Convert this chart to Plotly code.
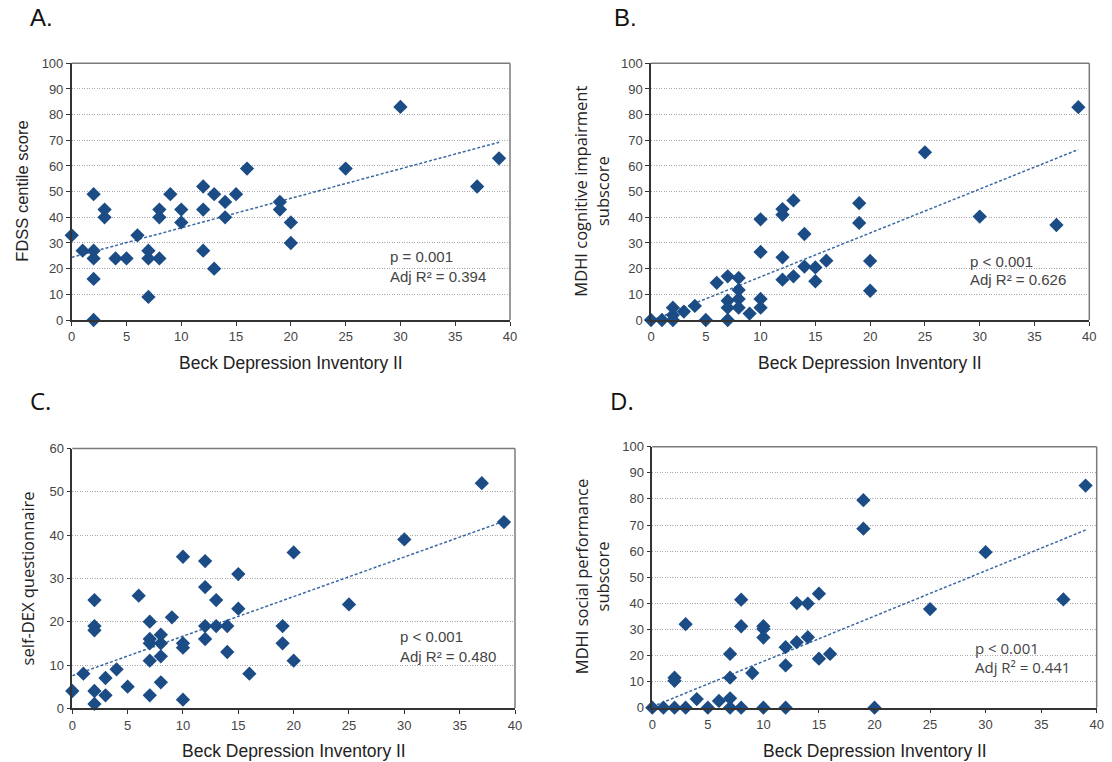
import plotly.graph_objects as go

W, H = 1112, 762

# ---------------- data ----------------
a_x = [0, 1, 2, 2, 2, 2, 2, 3, 3, 4, 5, 6, 7, 7, 7, 8, 8, 8, 9, 10, 10, 12, 12, 12,
       13, 13, 14, 14, 15, 16, 19, 19, 20, 20, 25, 30, 37, 39]
a_y = [33, 27, 49, 27, 24, 16, 0, 43, 40, 24, 24, 33, 27, 24, 9, 43, 40, 24, 49, 43, 38, 52, 43, 27,
       49, 20, 46, 40, 49, 59, 46, 43, 38, 30, 59, 83, 52, 63]

b_x = [0, 1, 2, 2, 2, 3, 4, 5, 6, 7, 7, 7, 7, 8, 8, 8, 8, 9, 10, 10, 10, 10, 12, 12, 12, 12,
       13, 13, 14, 14, 15, 15, 16, 19, 19, 20, 20, 25, 30, 37, 39]
b_y = [0, 0, 4.8, 1.9, 0, 3.3, 5.5, 0, 14.5, 17, 7.5, 4.8, 0, 16.4, 11.7, 8.2, 4.8, 2.5, 39.2, 26.5, 8.2, 4.8,
       43.2, 41, 24.4, 15.7, 46.6, 17, 33.5, 20.8, 20.5, 15.1, 23.1, 45.5, 37.8, 23, 11.4, 65.3, 40.3, 37, 82.9]

c_x = [0, 1, 2, 2, 2, 2, 2, 3, 3, 4, 5, 6, 7, 7, 7, 7, 7, 8, 8, 8, 8, 9, 10, 10, 10, 10,
       12, 12, 12, 12, 13, 13, 14, 14, 15, 15, 16, 19, 19, 20, 20, 25, 30, 37, 39]
c_y = [4, 8, 25, 19, 18, 4, 1, 7, 3, 9, 5, 26, 20, 16, 15, 11, 3, 17, 15, 12, 6, 21, 35, 15, 14, 2,
       34, 28, 19, 16, 25, 19, 19, 13, 31, 23, 8, 19, 15, 36, 11, 24, 39, 52, 43]

d_x = [0, 1, 2, 2, 2, 3, 3, 4, 5, 6, 7, 7, 7, 7, 8, 8, 8, 9, 10, 10, 10, 10, 12, 12, 12,
       13, 13, 14, 14, 15, 15, 16, 19, 19, 20, 25, 30, 37, 39]
d_y = [0, 0, 11.5, 10.3, 0, 32, 0, 3.3, 0, 2.6, 20.6, 11.5, 3.6, 0, 41.4, 31.2, 0, 13.3, 31.2, 30.2, 26.9, 0,
       23.2, 16.2, 0, 40.1, 25.1, 39.9, 27, 43.7, 18.8, 20.6, 79.5, 68.6, 0, 37.8, 59.6, 41.5, 85.1]

# linear trend lines (intercept, slope)
trend_intercept = [24.4, -0.3, 7.5, 0.4]
trend_slope = [1.15, 1.71, 0.915, 1.735]
trend_x_range = [0, 39]

panel_letters = ["A.", "B.", "C.", "D."]
y_titles = ["FDSS centile score",
            "MDHI cognitive impairment<br>subscore",
            "self-DEX questionnaire",
            "MDHI social performance<br>subscore"]
x_title = "Beck Depression Inventory II"
stats_p = ["p = 0.001", "p < 0.001", "p < 0.001", "p < 0.001"]
stats_r2 = ["Adj R² = 0.394", "Adj R² = 0.626", "Adj R² = 0.480", "Adj R² = 0.441"]
y_max = [100, 100, 60, 100]
x_ticks = [0, 5, 10, 15, 20, 25, 30, 35, 40]

# ---------------- layout geometry (pixels) ----------------
boxes = [(71.7, 510.0, 63.3, 320.0),
         (651.0, 1089.3, 63.3, 320.0),
         (72.3, 515.0, 448.5, 708.3),
         (652.3, 1096.7, 446.7, 707.7)]

MARK = "#1b4c85"
LINE = "#3a68a3"
SANS = "Liberation Sans"
ALT = "Open Sans"
TICKFONT = dict(family=SANS, size=13, color="#444444")

fig = go.Figure()
xs = [a_x, b_x, c_x, d_x]
ys = [a_y, b_y, c_y, d_y]

layout = dict(width=W, height=H, autosize=False, margin=dict(l=0, r=0, t=0, b=0, pad=0),
              paper_bgcolor="white", plot_bgcolor="white", showlegend=False)
annotations = []
shapes = []

for i in range(4):
    sfx = "" if i == 0 else str(i + 1)
    xa, ya = "x" + sfx, "y" + sfx
    l, r, t, b = boxes[i]
    dx = [l / W, r / W]
    dy = [1 - b / H, 1 - t / H]
    ym = y_max[i]

    tx = trend_x_range
    ty = [trend_intercept[i] + trend_slope[i] * v for v in tx]
    fig.add_trace(go.Scatter(x=tx, y=ty, mode="lines", xaxis=xa, yaxis=ya,
                             line=dict(color=LINE, width=1.5, dash="3px,2px"),
                             hoverinfo="skip"))
    fig.add_trace(go.Scatter(x=xs[i], y=ys[i], mode="markers", xaxis=xa, yaxis=ya,
                             cliponaxis=False,
                             marker=dict(symbol="diamond", size=11, color=MARK,
                                         line=dict(width=0))))

    layout["xaxis" + sfx] = dict(domain=dx, anchor=ya, range=[0, 40],
                                 tickvals=x_ticks, ticks="outside", ticklen=4,
                                 tickcolor="#333", tickwidth=1.3,
                                 showline=True, linecolor="#333", linewidth=1.5,
                                 showgrid=False, zeroline=False, tickfont=TICKFONT,
                                 fixedrange=True, automargin=False)
    layout["yaxis" + sfx] = dict(domain=dy, anchor=xa, range=[0, ym],
                                 tickvals=list(range(0, ym + 1, 10)),
                                 ticks="outside", ticklen=4, tickcolor="#333", tickwidth=1.3,
                                 showline=True, linecolor="#333", linewidth=1.5,
                                 showgrid=True, gridcolor="#a8a8a8", gridwidth=1,
                                 griddash="1px,1.5px", zeroline=False, tickfont=TICKFONT,
                                 fixedrange=True, automargin=False)

    shapes.append(dict(type="line", xref=xa + " domain", yref=ya + " domain",
                       x0=0, x1=1, y0=1, y1=1, line=dict(color="#7a7a7a", width=1.5)))
    shapes.append(dict(type="line", xref=xa + " domain", yref=ya + " domain",
                       x0=1, x1=1, y0=0, y1=1, line=dict(color="#7a7a7a", width=1.5)))

    alt_font = ALT if i >= 2 else SANS

    annotations.append(dict(text=x_title, xref="paper", yref="paper",
                            x=((l + r) / 2) / W, y=1 - (b + 43) / H,
                            xanchor="center", yanchor="middle", showarrow=False,
                            font=dict(family=SANS, size=17.5, color="#222")))
    yt_x = {0: 22, 1: 591, 2: 27, 3: 592}[i]
    annotations.append(dict(text=y_titles[i], xref="paper", yref="paper",
                            x=yt_x / W, y=1 - ((t + b) / 2) / H, textangle=-90,
                            xanchor="center", yanchor="middle", showarrow=False,
                            font=dict(family=(ALT if i >= 1 else SANS), size=16.5, color="#222")))
    let_pos = [(28, 18), (612, 18), (28, 400), (608, 400)][i]
    annotations.append(dict(text=panel_letters[i], xref="paper", yref="paper",
                            x=let_pos[0] / W, y=1 - let_pos[1] / H,
                            xanchor="left", yanchor="middle", showarrow=False,
                            font=dict(family=alt_font, size=24, color="#111")))
    sp = [(388, 257, 277), (968, 261, 280), (398, 636, 656), (973, 648, 667)][i]
    sfont = dict(family=(ALT if i == 3 else SANS), size=15, color="#444")
    annotations.append(dict(text=stats_p[i], xref="paper", yref="paper",
                            x=sp[0] / W, y=1 - sp[1] / H, xanchor="left", yanchor="middle",
                            showarrow=False, font=sfont))
    annotations.append(dict(text=stats_r2[i], xref="paper", yref="paper",
                            x=sp[0] / W, y=1 - sp[2] / H, xanchor="left", yanchor="middle",
                            showarrow=False, font=sfont))

layout["annotations"] = annotations
layout["shapes"] = shapes
fig.update_layout(**layout)
fig.write_html("out.html", config={"displayModeBar": False},
               post_script="document.body.style.margin='0';document.body.style.overflow='hidden';")
